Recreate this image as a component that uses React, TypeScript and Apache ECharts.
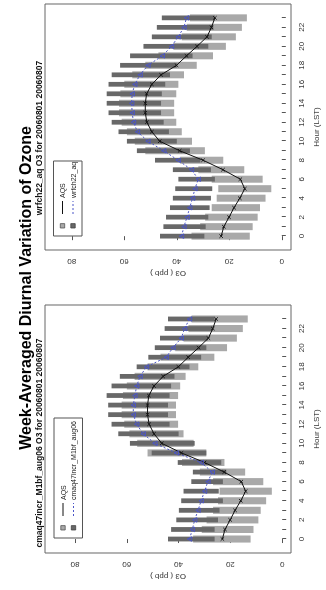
import React, { useEffect, useRef } from "react";
import * as echarts from "echarts";

const FONT = "'Liberation Sans', Arial, Helvetica, sans-serif";

// Hours and tick labels
const hours = [0, 1, 2, 3, 4, 5, 6, 7, 8, 9, 10, 11, 12, 13, 14, 15, 16, 17, 18, 19, 20, 21, 22, 23];
const hourLabelValues = [0, 2, 4, 6, 8, 10, 12, 14, 16, 18, 20, 22];
const o3TickValues = [0, 20, 40, 60, 80];

// AQS observations (box low / high, median), ppb
const aqsLow = [12.2, 11.1, 9.2, 8.3, 6.2, 4.0, 7.3, 14.3, 22.3, 29.3, 34.2, 38.1, 40.2, 41.0, 41.0, 40.2, 39.4, 37.3, 32.4, 26.2, 21.3, 17.5, 15.2, 13.3];
const aqsHigh = [34.4, 31.1, 29.2, 26.7, 24.8, 24.2, 26.7, 31.8, 38.7, 52, 56, 59, 61, 62, 62, 61.5, 60, 57, 52, 47, 41.3, 38.1, 36.2, 35];
const aqsMed = [23.1, 22.1, 20.1, 18.2, 16.0, 14.1, 15.8, 22.4, 30.0, 38.9, 46.5, 49.5, 51.4, 52, 52, 51.5, 49.5, 46, 40.1, 36.3, 32.3, 28.5, 26.8, 25.5];

// Model cmaq47incr_M1bf_aug06
const cmaqLow = [26.1, 26.1, 24.8, 24.2, 22.9, 24.5, 22.9, 21.6, 23.5, 29.3, 33.8, 40, 43.5, 44.1, 44.1, 43.5, 42.9, 41.6, 35.8, 31.3, 29.3, 28.7, 26.8, 26.1];
const cmaqHigh = [44.1, 42.9, 40.9, 39.9, 39.0, 38.1, 35.1, 34.5, 40.3, 50.4, 58.8, 63.3, 65.9, 67.2, 67.2, 67.8, 65.9, 62.7, 56.2, 51.7, 49.2, 47.2, 45.4, 44.1];
const cmaqMed = [35.8, 34.7, 33.8, 32.5, 31.3, 30.0, 28.7, 27.0, 31.3, 40.9, 49.2, 53.7, 56.2, 57.5, 57.5, 56.9, 56.2, 54.9, 52.4, 44.8, 42.2, 39.0, 37.7, 35.8];

// Model wrfch22_aq
const wrfLow = [29.5, 29, 28, 27.5, 27, 26.5, 25.5, 27, 31, 35, 40, 43, 45, 46, 46, 45.7, 44.4, 42.6, 40, 34, 28, 26.7, 26.1, 25.5];
const wrfHigh = [46.4, 45.1, 44.1, 42.6, 41.5, 40.6, 39.4, 41.5, 48.3, 55.2, 59, 62.2, 64.8, 66.0, 66.7, 66.7, 66.0, 64.8, 61.6, 57.8, 52.7, 49.5, 47.6, 45.7];
const wrfMed = [38.2, 37.3, 36.1, 35.1, 34.0, 33.1, 31.8, 34.4, 39.5, 45, 51, 55, 56.5, 57, 57.2, 57, 56, 54, 51, 45.5, 42.0, 39.5, 37.3, 36.3];

const modelNames = ["cmaq47incr_M1bf_aug06", "wrfch22_aq"];
const obsName = "AQS";
const mainTitle = "Week-Averaged Diurnal Variation of Ozone";
const periodText = "O3 for 20060801 20060807";

const LIGHT = "#a9a9a9";
const DARK = "#686868";
const BLUE = "#4b55c8";

function boxSeries(idx: number, low: number[], high: number[], color: string, w: number, name: string) {
  return {
    type: "custom",
    name,
    xAxisIndex: idx,
    yAxisIndex: idx,
    data: hours.map((h, i) => [h, low[i], high[i]]),
    encode: { x: 0, y: [1, 2] },
    renderItem: (params: any, api: any) => {
      const h = api.value(0);
      const lo = api.value(1);
      const hi = api.value(2);
      const p1 = api.coord([h - w / 2, hi]);
      const p2 = api.coord([h + w / 2, lo]);
      return {
        type: "rect",
        shape: { x: p1[0], y: p1[1], width: p2[0] - p1[0], height: p2[1] - p1[1] },
        style: { fill: color },
      };
    },
  };
}

function lineSeries(idx: number, med: number[], isObs: boolean, name: string) {
  return {
    type: "line",
    name,
    xAxisIndex: idx,
    yAxisIndex: idx,
    data: hours.map((h, i) => [h, med[i]]),
    symbol: isObs ? "path://M0,0L10,10M0,10L10,0" : "triangle",
    symbolSize: isObs ? 3.5 : 4.5,
    showSymbol: true,
    itemStyle: isObs
      ? { color: "none", borderColor: "#111", borderWidth: 0.9 }
      : { color: "rgba(255,255,255,0)", borderColor: BLUE, borderWidth: 0.9 },
    lineStyle: isObs ? { color: "#111", width: 1 } : { color: BLUE, width: 1, type: [2, 2] },
    z: 5,
  };
}

const panelGrids = [
  { left: 37, top: 45, width: 248, height: 246 },
  { left: 340, top: 45, width: 246, height: 246 },
];
const yMins = [-3.4, -3.5];
const yMaxs = [91.6, 90.2];

function legendGroup(x: number, y: number, w: number, model: string) {
  const rowY = [y + 9, y + 19.5];
  return {
    type: "group",
    children: [
      { type: "rect", shape: { x, y, width: w, height: 28.5 }, style: { fill: "#fff", stroke: "#555", lineWidth: 1 } },
      { type: "rect", shape: { x: x + 8, y: rowY[0] - 2.2, width: 4.4, height: 4.4 }, style: { fill: LIGHT, stroke: "#555", lineWidth: 0.8 } },
      { type: "rect", shape: { x: x + 8, y: rowY[1] - 2.2, width: 4.4, height: 4.4 }, style: { fill: DARK, stroke: "#444", lineWidth: 0.8 } },
      { type: "line", shape: { x1: x + 22, y1: rowY[0], x2: x + 35, y2: rowY[0] }, style: { stroke: "#111", lineWidth: 1 } },
      { type: "line", shape: { x1: x + 22, y1: rowY[1], x2: x + 35, y2: rowY[1] }, style: { stroke: BLUE, lineWidth: 1, lineDash: [2, 2] } },
      { type: "text", x: x + 38, y: rowY[0], style: { text: obsName, font: `7px ${FONT}`, fill: "#222", textVerticalAlign: "middle", verticalAlign: "middle" } },
      { type: "text", x: x + 38, y: rowY[1], style: { text: model, font: `7px ${FONT}`, fill: "#222", textVerticalAlign: "middle", verticalAlign: "middle" } },
    ],
    z: 10,
  };
}

export default function App() {
  const ref = useRef<HTMLDivElement>(null);
  useEffect(() => {
    document.body.style.margin = "0";
    document.body.style.background = "#fff";
    const chart = echarts.init(ref.current as HTMLDivElement, null, { renderer: "svg" });
    const axisText = { fontSize: 8, color: "#333", fontFamily: FONT };
    const xAxes = panelGrids.map((_, i) => ({
      type: "value",
      gridIndex: i,
      min: -1.46,
      max: 24.46,
      axisLine: { show: false },
      splitLine: { show: false },
      axisTick: { show: true, inside: false, length: 4, lineStyle: { color: "#555", width: 1 }, customValues: hours },
      axisLabel: { ...axisText, margin: 6, customValues: hourLabelValues },
      name: "Hour (LST)",
      nameLocation: "middle",
      nameGap: 21,
      nameTextStyle: axisText,
    }));
    const yAxes = panelGrids.map((_, i) => ({
      type: "value",
      gridIndex: i,
      min: yMins[i],
      max: yMaxs[i],
      axisLine: { show: false },
      splitLine: { show: false },
      axisTick: { show: true, inside: false, length: 4, lineStyle: { color: "#555", width: 1 }, customValues: o3TickValues },
      axisLabel: { ...axisText, rotate: 90, margin: 7.5, customValues: o3TickValues },
      name: "O3 ( ppb )",
      nameLocation: "middle",
      nameRotate: 90,
      nameGap: 20,
      nameTextStyle: axisText,
    }));
    const lows = [cmaqLow, wrfLow];
    const highs = [cmaqHigh, wrfHigh];
    const meds = [cmaqMed, wrfMed];
    const series: any[] = [];
    panelGrids.forEach((_, i) => {
      series.push(boxSeries(i, aqsLow, aqsHigh, LIGHT, 0.74, obsName));
      series.push(boxSeries(i, lows[i], highs[i], DARK, 0.5, modelNames[i]));
      series.push(lineSeries(i, aqsMed, true, obsName + " median"));
      series.push(lineSeries(i, meds[i], false, modelNames[i] + " median"));
    });
    const subStyle = { font: `bold 8.5px ${FONT}`, fill: "#111", textAlign: "center", textVerticalAlign: "middle", align: "center", verticalAlign: "middle" };
    chart.setOption({
      animation: false,
      backgroundColor: "#fff",
      grid: panelGrids.map((g) => ({ ...g, show: true, borderColor: "#666", borderWidth: 1, backgroundColor: "transparent" })),
      xAxis: xAxes,
      yAxis: yAxes,
      series,
      graphic: [
        {
          type: "text",
          x: 302,
          y: 25,
          style: { text: mainTitle, font: `bold 16px ${FONT}`, fill: "#000", textAlign: "center", textVerticalAlign: "middle", align: "center", verticalAlign: "middle" },
        },
        { type: "text", x: 147, y: 38.5, style: { ...subStyle, text: `${modelNames[0]} ${periodText}` } },
        { type: "text", x: 452, y: 38.5, style: { ...subStyle, text: `${modelNames[1]} ${periodText}` } },
        legendGroup(52, 54, 120, modelNames[0]),
        legendGroup(354, 53.5, 75, modelNames[1]),
      ],
    });
    return () => chart.dispose();
  }, []);
  return (
    <div
      ref={ref}
      style={{
        position: "fixed",
        left: 0,
        top: 0,
        width: 590,
        height: 326,
        background: "#fff",
        transformOrigin: "0 0",
        transform: "translate(0px, 590px) rotate(-90deg)",
      }}
    />
  );
}
